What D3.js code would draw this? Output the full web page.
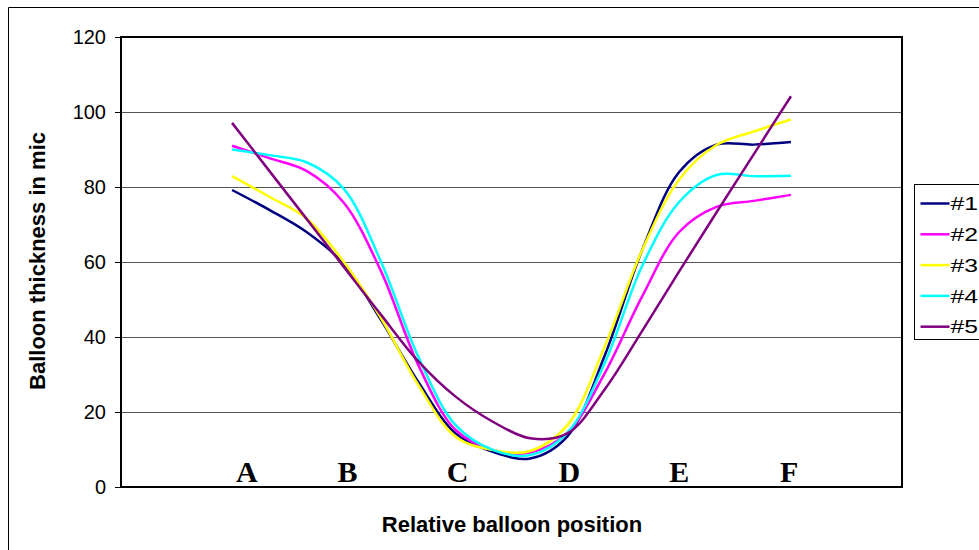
<!DOCTYPE html>
<html>
<head>
<meta charset="utf-8">
<script src="https://cdn.jsdelivr.net/npm/d3@7"></script>
<style>
	body { margin: 0; background: #fff; }
	text { font-family: Arial, "Liberation Sans", sans-serif; }
	.tick text { font-size: 20px; }
	.title { font-size: 22px; font-weight: bold; }
	.letter { font-family: "Times New Roman", "Liberation Serif", serif; font-size: 30px; font-weight: bold; }
	.legend text { font-size: 19px; }
</style>
</head>
<body>
<div id="vis"></div>
<script>
// measuring points along the balloon (index), A..F fall on every third one
var positions = [0, 1, 2, 3, 4, 5, 6, 7, 8, 9, 10, 11, 12, 13, 14, 15];
var letters = ['A', 'B', 'C', 'D', 'E', 'F'];
var letterPositions = [0.4, 3.1, 6.05, 9.05, 12, 14.95];
var yTicks = [0, 20, 40, 60, 80, 100, 120];

var seriesNames = ['#1', '#2', '#3', '#4', '#5'];
var seriesColors = ['#000080', '#ff00ff', '#ffff00', '#00ffff', '#800080'];

var s1 = [79.2, 73.9, 68, 59.5, 44.5, 28, 14.3, 9.4, 7.6, 13.5, 35, 63, 84, 91.3, 91.3, 92];
var s2 = [91, 87.7, 84.3, 75.8, 57.5, 32.5, 15.2, 9.9, 9.2, 14.5, 30.3, 50.7, 68, 74.7, 76.3, 77.9];
var s3 = [82.9, 77.4, 71.6, 60, 45, 27.2, 13.4, 9.9, 9.6, 16.5, 37.4, 63, 82, 91.2, 94.8, 98];
var s4 = [90, 88.5, 86.6, 79.5, 60, 34.7, 16.5, 9.9, 8.5, 14.5, 33, 58.8, 76, 83.2, 82.9, 83];
var s5 = [97.1, 84.3, 71.5, 58.7, 45.9, 33.5, 24.1, 17.4, 13, 14.3, 26, 41.5, 57.5, 73.2, 88.7, 104.2];

var allSeries = [s1, s2, s3, s4, s5];

var width = 979;
var height = 550;

var margin = {
	left: 121,
	top: 37,
	right: 77,
	bottom: 63
};

var drawWidth = width - margin.left - margin.right;
var drawHeight = height - margin.top - margin.bottom;

var svg = d3.select('#vis')
	.append('svg')
	.attr('width', width)
	.attr('height', height);

// chart frame (cut off on the right and bottom)
svg.append('path')
	.attr('d', 'M8.5,' + height + 'V7.5H' + width)
	.attr('fill', 'none')
	.attr('stroke', '#000')
	.attr('stroke-width', 1);

var g = svg.append('g')
	.attr('transform', 'translate(' + margin.left + ',' + margin.top + ')');

var xScale = d3.scaleLinear()
	.domain([-2.98, 17.98])
	.range([0, drawWidth]);

var yScale = d3.scaleLinear()
	.domain([0, 120])
	.range([drawHeight, 0]);

// gridlines
g.selectAll('.grid')
	.data(yTicks.filter(function(d) { return d > 0 && d < 120; }))
	.enter().append('line')
	.attr('class', 'grid')
	.attr('x1', 0)
	.attr('x2', drawWidth)
	.attr('y1', function(d) { return Math.round(yScale(d)) + 0.5; })
	.attr('y2', function(d) { return Math.round(yScale(d)) + 0.5; })
	.attr('stroke', '#555')
	.attr('stroke-width', 1);

// plot area border
g.append('rect')
	.attr('x', 0)
	.attr('y', 0)
	.attr('width', drawWidth)
	.attr('height', drawHeight)
	.attr('fill', 'none')
	.attr('stroke', '#000')
	.attr('stroke-width', 2);

var yAxis = d3.axisLeft(yScale)
	.tickValues(yTicks)
	.tickSize(6)
	.tickPadding(9);

var yAxisG = g.append('g')
	.attr('class', 'axis')
	.call(yAxis);
yAxisG.select('.domain').remove();
yAxisG.selectAll('line').attr('stroke', '#000').attr('stroke-width', 1);
yAxisG.selectAll('text').attr('fill', '#000');

// series lines
var line = d3.line()
	.x(function(d, i) { return xScale(positions[i]); })
	.y(function(d) { return yScale(d); })
	.curve(d3.curveCatmullRom.alpha(0.5));

g.selectAll('.series')
	.data(allSeries)
	.enter().append('path')
	.attr('class', 'series')
	.attr('d', line)
	.attr('fill', 'none')
	.attr('stroke', function(d, i) { return seriesColors[i]; })
	.attr('stroke-width', 2.5)
	.attr('stroke-linejoin', 'round');

// category letters sitting on the axis
g.selectAll('.letter')
	.data(letters)
	.enter().append('text')
	.attr('class', 'letter')
	.attr('x', function(d, i) { return xScale(letterPositions[i]); })
	.attr('y', drawHeight - 5)
	.attr('text-anchor', 'middle')
	.text(function(d) { return d; });

// axis titles
svg.append('text')
	.attr('class', 'title')
	.attr('x', 512)
	.attr('y', 532)
	.attr('text-anchor', 'middle')
	.text('Relative balloon position');

svg.append('text')
	.attr('class', 'title')
	.attr('transform', 'translate(45,261) rotate(-90)')
	.attr('text-anchor', 'middle')
	.text('Balloon thickness in mic');

// legend
var legend = svg.append('g')
	.attr('class', 'legend')
	.attr('transform', 'translate(914.5,184.5)');

legend.append('rect')
	.attr('width', 100)
	.attr('height', 155)
	.attr('fill', '#fff')
	.attr('stroke', '#000')
	.attr('stroke-width', 1);

var items = legend.selectAll('.item')
	.data(seriesNames)
	.enter().append('g')
	.attr('class', 'item')
	.attr('transform', function(d, i) { return 'translate(0,' + (19 + i * 30.8) + ')'; });

items.append('line')
	.attr('x1', 6)
	.attr('x2', 35)
	.attr('stroke', function(d, i) { return seriesColors[i]; })
	.attr('stroke-width', 2.5);

// legend labels look stretched sideways in the original
items.append('text')
	.attr('transform', 'translate(36,0) scale(1.3,1)')
	.attr('dy', '0.35em')
	.text(function(d) { return d; });
</script>
</body>
</html>
